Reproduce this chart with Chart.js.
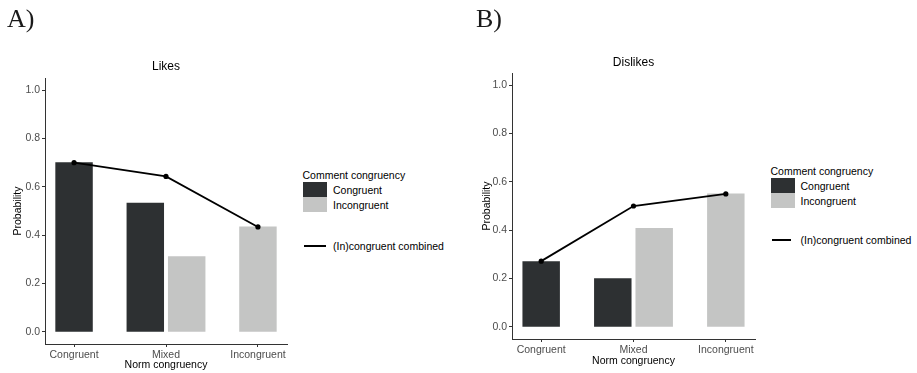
<!DOCTYPE html>
<html>
<head>
<meta charset="utf-8">
<script src="https://cdn.jsdelivr.net/npm/chart.js@4/dist/chart.umd.min.js"></script>
<style>
  html, body { margin: 0; padding: 0; background: #fff; }
  body { width: 917px; height: 373px; position: relative; overflow: hidden;
         font-family: "Liberation Sans", Arial, sans-serif; }
  canvas { position: absolute; top: 0; display: block; }
  .t { position: absolute; white-space: nowrap; line-height: 1; color: #000;
       font-size: 10.5px; transform: translateY(-50%); }
  .title { font-size: 12px; transform: translate(-50%, -50%); }
  .panel { position: absolute; font-family: "Liberation Serif", "DejaVu Serif", serif;
           font-size: 26px; line-height: 1; color: #1a1a1a; }
  .key { position: absolute; width: 24px; height: 15px; }
  .keyline { position: absolute; height: 2px; background: #000; }
</style>
</head>
<body>
<canvas id="likes" width="300" height="373" style="left:0px"></canvas>
<canvas id="dislikes" width="300" height="373" style="left:467px"></canvas>

<div class="panel" style="left:7px; top:6px">A)</div>
<div class="panel" style="left:476px; top:6px">B)</div>

<div class="t title" style="left:166px; top:66px">Likes</div>
<div class="t title" style="left:633.5px; top:61.5px">Dislikes</div>

<!-- legend, panel A -->
<div class="t" style="left:302.5px; top:175px">Comment congruency</div>
<div class="key" style="left:302.5px; top:182px; background:#2d3032"></div>
<div class="key" style="left:302.5px; top:197px; background:#c4c5c4"></div>
<div class="t" style="left:333px; top:190px">Congruent</div>
<div class="t" style="left:333px; top:205px">Incongruent</div>
<div class="keyline" style="left:304px; top:245px; width:21.5px"></div>
<div class="t" style="left:333px; top:246px">(In)congruent combined</div>

<!-- legend, panel B -->
<div class="t" style="left:770.5px; top:170.5px">Comment congruency</div>
<div class="key" style="left:770.5px; top:178px; background:#2d3032"></div>
<div class="key" style="left:770.5px; top:193px; background:#c4c5c4"></div>
<div class="t" style="left:800.5px; top:185.5px">Congruent</div>
<div class="t" style="left:800.5px; top:200.5px">Incongruent</div>
<div class="keyline" style="left:771.5px; top:239px; width:19.5px"></div>
<div class="t" style="left:800.5px; top:240px">(In)congruent combined</div>

<script>
// Norm congruency categories on the x axis
const normCategories = ['Congruent', 'Mixed', 'Incongruent'];
const probabilityTicks = [0.0, 0.2, 0.4, 0.6, 0.8, 1.0];

// Likes: probability by comment congruency
const likesCongruent   = [0.700, 0.533, null];
const likesIncongruent = [null, 0.312, 0.435];
const likesCombined    = [0.700, 0.643, 0.434];

// Dislikes: probability by comment congruency
const dislikesCongruent   = [0.270, 0.200, null];
const dislikesIncongruent = [null, 0.408, 0.550];
const dislikesCombined    = [0.272, 0.500, 0.550];

const DARK = '#2d3032';
const LIGHT = '#c4c5c4';
const AXIS = '#333333';
const FONT = '"Liberation Sans", Arial, sans-serif';

const toPoints = arr => arr.map((v, i) => ({ x: i + 1, y: v }));

function buildChart(id, congruent, incongruent, combined, geo) {
  const barStyle = {
    type: 'bar',
    barThickness: 41.4,
    maxBarThickness: 36.8,
    skipNull: true,
    order: 1
  };
  return new Chart(document.getElementById(id), {
    type: 'bar',
    data: {
      datasets: [
        Object.assign({ label: 'Congruent', data: toPoints(congruent), backgroundColor: DARK }, barStyle),
        Object.assign({ label: 'Incongruent', data: toPoints(incongruent), backgroundColor: LIGHT }, barStyle),
        {
          type: 'line',
          label: '(In)congruent combined',
          data: toPoints(combined),
          borderColor: '#000',
          borderWidth: 1.8,
          pointRadius: 2.6,
          pointBackgroundColor: '#000',
          pointBorderWidth: 0,
          tension: 0,
          order: 0
        }
      ]
    },
    options: {
      responsive: false,
      animation: false,
      layout: { padding: geo.padding },
      plugins: { legend: { display: false }, tooltip: { enabled: false }, title: { display: false } },
      scales: {
        x: {
          type: 'linear',
          min: 0.684,
          max: 3.316,
          offset: false,
          afterBuildTicks: s => { s.ticks = normCategories.map((c, i) => ({ value: i + 1 })); },
          afterFit: s => { s.height = 29; },
          ticks: {
            autoSkip: false, maxRotation: 0, padding: 2, color: '#4d4d4d',
            font: { family: FONT, size: 10.5 },
            callback: (v, i) => normCategories[i]
          },
          grid: { display: true, drawOnChartArea: false, drawTicks: true, tickLength: 3, color: AXIS, offset: false },
          border: { display: true, color: AXIS, width: 1 },
          title: {
            display: true, text: 'Norm congruency', color: '#000',
            font: { family: FONT, size: 10.5 }, padding: { top: 0, bottom: geo.xTitlePad }
          }
        },
        y: {
          type: 'linear',
          min: -0.05,
          max: 1.05,
          afterBuildTicks: s => { s.ticks = probabilityTicks.map(v => ({ value: v })); },
          afterFit: s => { s.width = 45; },
          ticks: {
            padding: 2, color: '#4d4d4d',
            font: { family: FONT, size: 10.5 },
            callback: v => Number(v).toFixed(1)
          },
          grid: { display: true, drawOnChartArea: false, drawTicks: true, tickLength: 3, color: AXIS },
          border: { display: true, color: AXIS, width: 1 },
          title: {
            display: true, text: 'Probability', color: '#000',
            font: { family: FONT, size: 10.5 }, padding: { top: geo.yTitlePad, bottom: 0 }
          }
        }
      }
    }
  });
}

buildChart('likes', likesCongruent, likesIncongruent, likesCombined,
  { padding: { top: 78, right: 13, bottom: 0, left: 0 }, xTitlePad: 2, yTitlePad: 12 });
buildChart('dislikes', dislikesCongruent, dislikesIncongruent, dislikesCombined,
  { padding: { top: 73, right: 12, bottom: 5, left: 0 }, xTitlePad: 1, yTitlePad: 13.5 });
</script>
</body>
</html>
